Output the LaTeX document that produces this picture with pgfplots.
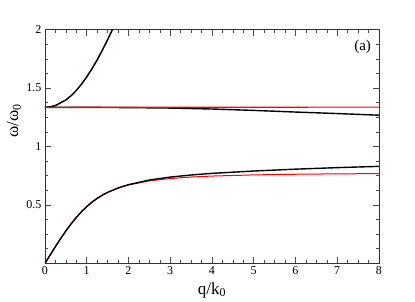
\documentclass[border=0pt]{standalone}
\usepackage{pgfplots}
\pgfplotsset{compat=1.18}
\usepackage{fontspec}
\setmainfont{Liberation Serif}
\begin{document}
\begin{tikzpicture}
\begin{axis}[
  scale only axis,
  width=334pt, height=233.6pt,
  xmin=0, xmax=8, ymin=0, ymax=2,
  xtick={0,1,...,8},
  ytick={0,0.5,1,1.5,2},
  yticklabels={,0.5,1,1.5,2},
  minor x tick num=3,
  minor y tick num=3,
  tick align=inside,
  xtick pos=both, ytick pos=both,
  major tick length=6pt, minor tick length=3pt,
  axis line style={line width=0.8pt, black!80},
  every tick/.style={black!70, line width=0.6pt},
  /pgf/number format/assume math mode=true,
  tick label style={font=\fontsize{12}{13}\selectfont},
  xlabel={q/k\textsubscript{0}},
  ylabel={ω/ω\textsubscript{0}},
  label style={font=\fontsize{17}{18}\selectfont},
  xlabel style={at={(axis description cs:0.5,-0.114)}, anchor=center},
  ylabel style={at={(axis description cs:-0.093,0.61)}, anchor=center},
  clip=true,
]
% red: local model
\addplot[red, line width=1.0pt] coordinates {
(0,1.335) (0.1,1.3375) (0.25,1.3506) (0.5,1.3984) (0.625,1.4349) (0.75,1.4800)
(0.875,1.5337) (1,1.5957) (1.125,1.6655) (1.25,1.7423) (1.375,1.8254) (1.5,1.9140) (1.75,2.1046)};
\addplot[red, line width=1.0pt] coordinates {
(0,0) (0.25,0.1434) (0.375,0.2121) (0.5,0.2771) (0.625,0.3376) (0.75,0.3927) (0.875,0.4421)
(1,0.4857) (1.125,0.5235) (1.25,0.5560) (1.375,0.5838) (1.5,0.6074) (1.75,0.6444)
(2,0.6713) (2.5,0.7059) (3,0.7260) (3.5,0.7386) (4,0.7469) (5,0.7569) (6,0.7624) (7,0.7657) (8,0.7679)};
% black: full model
\addplot[black, line width=1.4pt] coordinates {
(0,1.335) (0.1,1.3375) (0.25,1.3506) (0.5,1.3984) (0.625,1.4349) (0.75,1.4800)
(0.875,1.5337) (1,1.5957) (1.125,1.6655) (1.25,1.7423) (1.375,1.8254) (1.5,1.9140) (1.75,2.1046)};
\addplot[black, line width=1.4pt] coordinates {
(0,1.335) (1,1.335) (2,1.333) (3,1.329) (4,1.321) (5,1.309) (6,1.295) (7,1.282) (8,1.268)};
\addplot[black, line width=1.4pt] coordinates {
(0,0) (0.25,0.1434) (0.375,0.2121) (0.5,0.2771) (0.625,0.3376) (0.75,0.3927) (0.875,0.4421)
(1,0.4857) (1.125,0.5235) (1.25,0.5560) (1.375,0.5838) (1.5,0.6074) (1.75,0.6445)
(2,0.673) (2.5,0.713) (3,0.738) (3.5,0.756) (4,0.770) (5,0.790) (6,0.806) (7,0.819) (8,0.830)};
% red flat branch
\addplot[red, line width=1.1pt] coordinates {(0,1.3355) (2,1.3358) (4,1.3361) (6,1.3364) (8,1.3367)};
\node[font=\fontsize{15}{16}\selectfont] at (axis description cs:0.951,0.927) {(a)};
\end{axis}
\path ([shift={(-45pt,-38.7pt)}]current axis.south west) rectangle ([shift={(36pt,29.7pt)}]current axis.north east);
\end{tikzpicture}
\end{document}
